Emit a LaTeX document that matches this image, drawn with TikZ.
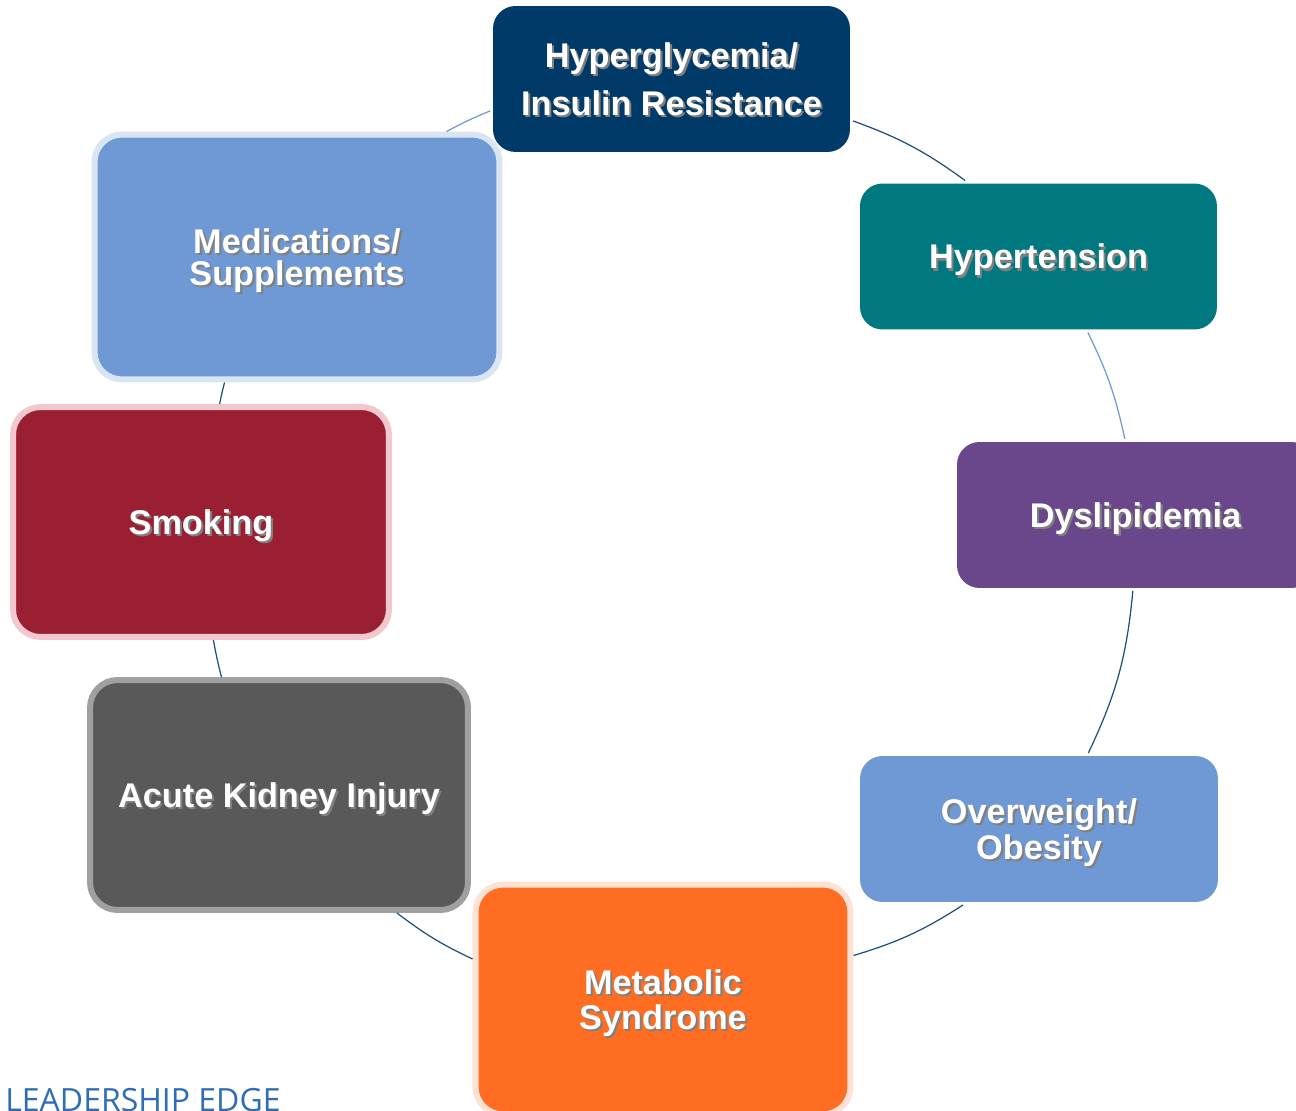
\documentclass[tikz,border=0pt]{standalone}
\usepackage{fontspec}
\setmainfont{Liberation Sans}
\newfontfamily\edgefont{Open Sans}
\usetikzlibrary{positioning}

\definecolor{navybox}{HTML}{003A68}
\definecolor{tealbox}{HTML}{007880}
\definecolor{purplebox}{HTML}{6A478B}
\definecolor{bluebox}{HTML}{6F99D4}
\definecolor{orangebox}{HTML}{FF6D22}
\definecolor{graybox}{HTML}{595959}
\definecolor{redbox}{HTML}{9A1F32}
\definecolor{blueedge}{HTML}{DAE5F3}
\definecolor{pinkedge}{HTML}{F3C7CE}
\definecolor{grayedge}{HTML}{A0A0A0}
\definecolor{peachedge}{HTML}{FFE2D4}
\definecolor{linknavy}{HTML}{1C4E80}
\definecolor{linkblue}{HTML}{6F99D4}
\definecolor{edgeblue}{HTML}{2F6DB5}

% white text with a soft drop shadow
\newcommand{\shtext}[1]{\leavevmode\rlap{\kern1.2pt\raisebox{-1.2pt}{\textcolor{black!50}{#1}}}#1}

\begin{document}
\begin{tikzpicture}[x=0.02cm,y=0.02cm,
  box/.style={rectangle,rounded corners=0.45cm,inner sep=0pt,outer sep=0.06cm,
    text=white,align=center,font=\fontsize{19.5}{19}\selectfont\bfseries,text depth=0pt,
    minimum width=7.14cm,minimum height=2.92cm},
  bigbox/.style={box,rounded corners=0.55cm,line width=0.12cm},
  link/.style={draw=linknavy,line width=0.7pt},
  lightlink/.style={link,draw=linkblue}]
  \clip (0,0) rectangle (1296,1110);
  % boxes round the cycle
  \node[box,fill=navybox,font=\fontsize{19.5}{27}\selectfont\bfseries] (hyper) at (671.5,1031)
    {\shtext{Hyperglycemia/}\\\shtext{Insulin Resistance}};
  \node[box,fill=tealbox] (hyperten) at (1038.5,853.5) {\shtext{Hypertension}};
  \node[box,fill=purplebox] (dyslip) at (1135.5,595) {\shtext{Dyslipidemia}};
  \node[box,fill=bluebox,minimum width=7.16cm] (overw) at (1039,281)
    {\shtext{Overweight/}\\\shtext{Obesity}};
  \node[bigbox,fill=orangebox,draw=peachedge,minimum width=7.5cm,minimum height=4.6cm,
    font=\fontsize{19.5}{20}\selectfont\bfseries] (metab) at (663,110.5)
    {\shtext{Metabolic}\\\shtext{Syndrome}};
  \node[bigbox,fill=graybox,draw=grayedge,minimum width=7.56cm,minimum height=4.6cm] (aki) at (279,315)
    {\shtext{Acute Kidney Injury}};
  \node[bigbox,fill=redbox,draw=pinkedge,minimum width=7.52cm,minimum height=4.6cm] (smoke) at (201,588)
    {\shtext{Smoking}};
  \node[bigbox,fill=bluebox,draw=blueedge,minimum width=8.1cm,minimum height=4.9cm,
    font=\fontsize{19.5}{18.5}\selectfont\bfseries] (meds) at (297,853)
    {\shtext{Medications/}\\\shtext{Supplements}};
  % arcs between the boxes
  \draw[link] (hyper.-13) to[bend left=8] (hyperten.134);
  \draw[lightlink] (hyperten.-57) to[bend left=7] (dyslip.98);
  \draw[link] (dyslip.-92) to[bend left=10] (overw.57);
  \draw[link] (overw.-135) to[bend left=8] (metab.13);
  \draw[link] (metab.168) to[bend left=6] (aki.-45);
  \draw[link] (aki.116) to[bend left=2] (smoke.-84);
  \draw[link] (smoke.81) to[bend left=2] (meds.-120);
  \draw[lightlink] (meds.40) to[bend left=3] (hyper.-170);
  % footer
  \node[anchor=base west,inner sep=0pt,text=edgeblue,font=\edgefont\fontsize{18.2}{20}\selectfont] (edge)
    at (5,-1) {LEADERSHIP EDGE};
\end{tikzpicture}
\end{document}
